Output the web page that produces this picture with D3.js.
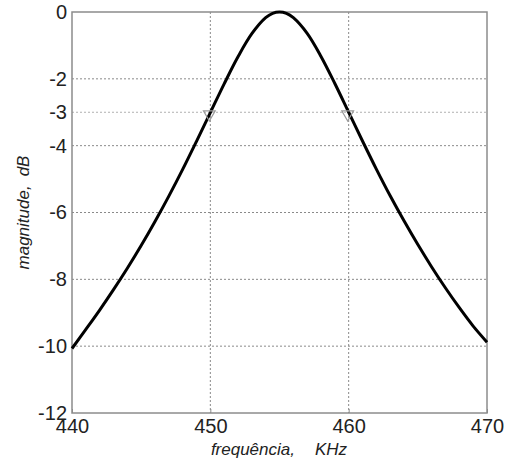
<!DOCTYPE html>
<html>
<head>
<meta charset="utf-8">
<script src="https://cdn.jsdelivr.net/npm/d3@7"></script>
<style>
  body { margin: 0; background: #fff; }
  svg { display: block; font-family: "Liberation Sans", Arial, sans-serif; }
</style>
</head>
<body>
<svg id="chart" width="506" height="461"></svg>
<script>
// frequency response
const freqs = [440, 441, 442, 443, 444, 445, 446, 447, 448, 449, 450, 451, 452, 453, 454, 454.5, 455,
               455.5, 456, 457, 458, 459, 460, 461, 462, 463, 464, 465, 466, 467, 468, 469, 470];
const mags = [-10.07, -9.50, -8.92, -8.31, -7.67, -6.99, -6.27, -5.51, -4.71, -3.87, -3.01, -2.15, -1.34, -0.65, -0.17, -0.04, 0,
              -0.04, -0.17, -0.64, -1.33, -2.14, -3.00, -3.86, -4.70, -5.50, -6.25, -6.96, -7.63, -8.26, -8.85, -9.40, -9.88];
const xTicks = [440, 450, 460, 470];
const yTicks = [0, -2, -3, -4, -6, -8, -10, -12];
const markers = [[450, -3], [460, -3]];

const width = 506, height = 461;
const margin = { top: 12, right: 19, bottom: 48, left: 72 };

const svg = d3.select("#chart");

const x = d3.scaleLinear()
  .domain([440, 470])
  .range([margin.left, width - margin.right]);

const y = d3.scaleLinear()
  .domain([-12, 0])
  .range([height - margin.bottom, margin.top]);

// plain hyphen for negatives, like the original
const fmt = d => String(d);

// grid
const grid = svg.append("g")
  .attr("stroke", "#8a8a8a")
  .attr("stroke-width", 1)
  .attr("stroke-dasharray", "2,2");

grid.selectAll(".hgrid")
  .data(yTicks.filter(d => d !== 0 && d !== -12))
  .join("line")
  .attr("x1", margin.left)
  .attr("x2", width - margin.right)
  .attr("y1", d => y(d))
  .attr("y2", d => y(d))
  .attr("stroke", d => d === -3 ? "#b0b0b0" : null);

grid.selectAll(".vgrid")
  .data(xTicks.filter(d => d !== 440 && d !== 470))
  .join("line")
  .attr("y1", margin.top)
  .attr("y2", height - margin.bottom)
  .attr("x1", d => x(d))
  .attr("x2", d => x(d));

// frame
svg.append("rect")
  .attr("x", margin.left)
  .attr("y", margin.top)
  .attr("width", width - margin.left - margin.right)
  .attr("height", height - margin.top - margin.bottom)
  .attr("fill", "none")
  .attr("stroke", "#8c8c8c")
  .attr("stroke-width", 1.5);

// axes
const xAxis = svg.append("g")
  .attr("transform", `translate(0,${height - margin.bottom})`)
  .call(d3.axisBottom(x).tickValues(xTicks).tickSize(-4).tickPadding(6).tickFormat(fmt));
xAxis.select(".domain").remove();
xAxis.selectAll(".tick line").attr("stroke", "#8c8c8c");
xAxis.selectAll(".tick text")
  .attr("fill", "#222")
  .style("font-size", "20px");

const yAxis = svg.append("g")
  .attr("transform", `translate(${margin.left},0)`)
  .call(d3.axisLeft(y).tickValues(yTicks).tickSize(0).tickPadding(5).tickFormat(fmt));
yAxis.select(".domain").remove();
yAxis.selectAll(".tick text")
  .attr("fill", "#222")
  .style("font-size", "20px");

// curve
const line = d3.line()
  .x((d, i) => x(freqs[i]))
  .y(d => y(d))
  .curve(d3.curveCatmullRom);

svg.append("path")
  .datum(mags)
  .attr("d", line)
  .attr("fill", "none")
  .attr("stroke", "#000")
  .attr("stroke-width", 3);

// -3 dB markers
const tri = d3.symbol().type(d3.symbolTriangle).size(60);
svg.selectAll(".marker")
  .data(markers)
  .join("path")
  .attr("d", tri)
  .attr("transform", d => `translate(${x(d[0]) - 1},${y(d[1]) + 2}) rotate(180)`)
  .attr("fill", "none")
  .attr("stroke", "#9a9a9a")
  .attr("stroke-width", 1.2);

// labels
const xl = svg.append("text")
  .attr("x", 279)
  .attr("y", 455)
  .attr("text-anchor", "middle")
  .attr("font-style", "italic")
  .attr("fill", "#222")
  .style("font-size", "17px");
xl.append("tspan").text("frequência,");
xl.append("tspan").attr("dx", 20).text("KHz");

const yl = svg.append("text")
  .attr("transform", `translate(29,${(margin.top + height - margin.bottom) / 2}) rotate(-90)`)
  .attr("text-anchor", "middle")
  .attr("font-style", "italic")
  .attr("fill", "#222")
  .style("font-size", "17px");
yl.append("tspan").text("magnitude,");
yl.append("tspan").attr("dx", 9).text("dB");
</script>
</body>
</html>
